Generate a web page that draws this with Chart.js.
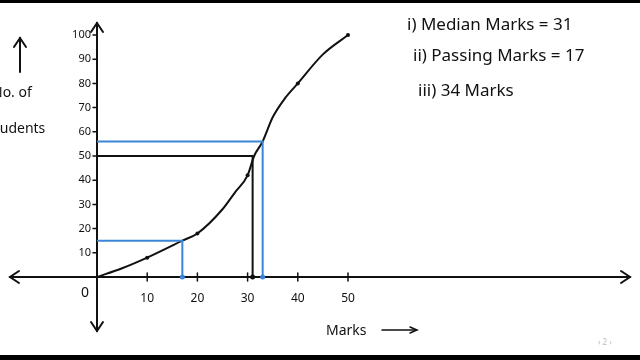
<!DOCTYPE html>
<html>
<head>
<meta charset="utf-8">
<script src="https://cdn.jsdelivr.net/npm/chart.js@4.4.0/dist/chart.umd.min.js"></script>
<style>
    html, body { margin: 0; padding: 0; background: #fff; }
    #wrap { position: relative; width: 640px; height: 360px; overflow: hidden; background: #fff;
            font-family: "Noto Sans", sans-serif; color: #111; }
    #ogive { position: absolute; left: 0; top: 0; }
    .bar { position: absolute; left: 0; width: 640px; background: #000; }
    .note { position: absolute; font-size: 17px; white-space: nowrap; line-height: 1; }
    .lbl { position: absolute; font-size: 14px; white-space: nowrap; line-height: 1; }
</style>
</head>
<body>
<div id="wrap">
    <canvas id="ogive" width="640" height="360"></canvas>
    <div class="bar" style="top:0;height:3px"></div>
    <div class="bar" style="top:355px;height:5px"></div>

    <div class="note" style="left:407px;top:15px">i) Median Marks = 31</div>
    <div class="note" style="left:413px;top:46px">ii) Passing Marks = 17</div>
    <div class="note" style="left:418px;top:81px">iii) 34 Marks</div>

    <div class="lbl" style="left:-8px;top:85px">No. of</div>
    <div class="lbl" style="left:-12px;top:121px">students</div>
    <div class="lbl" style="left:326px;top:323px">Marks</div>
    <div style="position:absolute;left:598px;top:336px;font-size:8px;color:#bbb">‹ 2 ›</div>
</div>

<script>
// ogive (cumulative frequency)
const curveMarks    = [0, 5, 10, 17, 20, 25, 27.5, 30, 31.3, 33, 35, 37.5, 40, 45, 50];
const curveStudents = [0, 3.6, 8, 15, 18, 28, 35, 42, 50, 56, 66, 74, 80, 92, 100];

// plotted points on the curve
const dotMarks    = [10, 20, 30, 40, 50];
const dotStudents = [8, 18, 42, 80, 100];

// median (N/2 = 50) -> 31 marks
const medianMarks    = [0, 31, 31];
const medianStudents = [50, 50, 0];

// passing marks (15 students) -> 17
const passMarks    = [0, 17, 17];
const passStudents = [15, 15, 0];

// 56 students -> 33/34 marks
const topMarks    = [0, 33, 33];
const topStudents = [56, 56, 0];

// axis ticks
const xTicks = [10, 20, 30, 40, 50];
const xTickLabels = ['10', '20', '30', '40', '50'];
const yTicks = [10, 20, 30, 40, 50, 60, 70, 80, 90, 100];
const yTickLabels = ['10', '20', '30', '40', '50', '60', '70', '80', '90', '100'];

const INK = '#111';
const BLUE = '#3b86d6';

const toPoints = (xs, ys) => xs.map((x, i) => ({ x, y: ys[i] }));

// pixel anchors: x 0 -> 97px, 50 -> 348px ; y 0 -> 277px, 100 -> 35px
const pxPerMark = (348 - 97) / 50;
const pxPerStudent = (277 - 35) / 100;

function arrowHead(ctx, x, y, dx, dy) {
    const len = 9, half = 6;
    const nx = -dy, ny = dx;
    ctx.beginPath();
    ctx.moveTo(x - dx * len + nx * half, y - dy * len + ny * half);
    ctx.lineTo(x, y);
    ctx.lineTo(x - dx * len - nx * half, y - dy * len - ny * half);
    ctx.stroke();
}

const axesPlugin = {
    id: 'handAxes',
    beforeDatasetsDraw(chart) {
        const { ctx, scales } = chart;
        const x0 = scales.x.getPixelForValue(0);
        const y0 = scales.y.getPixelForValue(0);
        ctx.save();
        ctx.strokeStyle = INK;
        ctx.fillStyle = INK;
        ctx.lineWidth = 2;
        ctx.lineCap = 'round';

        // axes lines
        ctx.beginPath();
        ctx.moveTo(10, y0); ctx.lineTo(630, y0);
        ctx.moveTo(x0, 23); ctx.lineTo(x0, 331);
        ctx.stroke();
        arrowHead(ctx, 10, y0, -1, 0);
        arrowHead(ctx, 630, y0, 1, 0);
        arrowHead(ctx, x0, 23, 0, -1);
        arrowHead(ctx, x0, 331, 0, 1);

        // y axis label arrow
        ctx.beginPath();
        ctx.moveTo(20, 72); ctx.lineTo(20, 38);
        ctx.stroke();
        arrowHead(ctx, 20, 38, 0, -1);

        // Marks arrow
        ctx.lineWidth = 1.5;
        ctx.beginPath();
        ctx.moveTo(382, 330); ctx.lineTo(416, 330);
        ctx.stroke();
        ctx.beginPath();
        ctx.moveTo(410, 327); ctx.lineTo(417, 330); ctx.lineTo(410, 333);
        ctx.stroke();

        // ticks
        ctx.lineWidth = 1.5;
        ctx.font = '11px "Noto Sans", sans-serif';
        ctx.textBaseline = 'middle';
        ctx.textAlign = 'right';
        yTicks.forEach((v, i) => {
            const py = scales.y.getPixelForValue(v);
            ctx.beginPath();
            ctx.moveTo(x0 - 4, py); ctx.lineTo(x0, py);
            ctx.stroke();
            ctx.fillText(yTickLabels[i], x0 - 6, py);
        });
        ctx.font = '12px "Noto Sans", sans-serif';
        ctx.textAlign = 'center';
        xTicks.forEach((v, i) => {
            const px = scales.x.getPixelForValue(v);
            ctx.beginPath();
            ctx.moveTo(px, y0 - 4); ctx.lineTo(px, y0 + 4);
            ctx.stroke();
            ctx.fillText(xTickLabels[i], px, y0 + 22);
        });
        ctx.font = '14px "Noto Sans", sans-serif';
        ctx.fillText('0', x0 - 12, y0 + 16);
        ctx.restore();
    }
};

const guide = (label, xs, ys, color, width) => ({
    label,
    data: toPoints(xs, ys),
    borderColor: color,
    backgroundColor: color,
    borderWidth: width,
    showLine: true,
    tension: 0,
    pointRadius: [0, 0, 2.5],
    pointBorderWidth: 0
});

new Chart(document.getElementById('ogive'), {
    type: 'scatter',
    data: {
        datasets: [
            guide('Median', medianMarks, medianStudents, INK, 2),
            guide('Passing', passMarks, passStudents, BLUE, 2),
            guide('56 students', topMarks, topStudents, BLUE, 2),
            {
                label: 'Ogive',
                data: toPoints(curveMarks, curveStudents),
                borderColor: INK,
                borderWidth: 2,
                showLine: true,
                cubicInterpolationMode: 'monotone',
                pointRadius: 0
            },
            {
                label: 'Points',
                data: toPoints(dotMarks, dotStudents),
                backgroundColor: INK,
                borderWidth: 0,
                pointRadius: 2
            }
        ]
    },
    options: {
        responsive: false,
        animation: false,
        events: [],
        layout: { padding: 0, autoPadding: false },
        plugins: { legend: { display: false }, tooltip: { enabled: false } },
        scales: {
            x: { type: 'linear', display: false, min: -97 / pxPerMark, max: (640 - 97) / pxPerMark },
            y: { type: 'linear', display: false, min: -(360 - 277) / pxPerStudent, max: 277 / pxPerStudent }
        }
    },
    plugins: [axesPlugin]
});
</script>
</body>
</html>
